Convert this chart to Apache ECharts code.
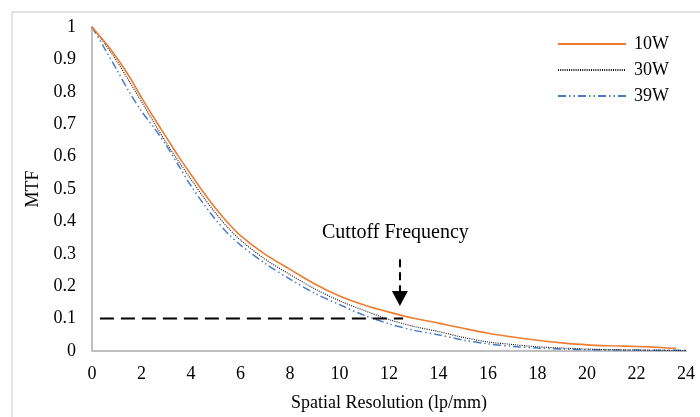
<!DOCTYPE html>
<html><head><meta charset="utf-8">
<script src="https://cdn.jsdelivr.net/npm/echarts@6/dist/echarts.min.js"></script>
<style>html,body{margin:0;padding:0;background:#fff}#c{width:700px;height:417px}</style>
</head><body><div id="c"></div>
<script>
const xTicks = [0,2,4,6,8,10,12,14,16,18,20,22,24];
const seriesNames = ['10W','30W','39W'];
const x10W = [0,0.5,1,1.5,2,2.5,3,3.5,4,4.5,5,5.5,6,7,8,9,10,11,12,13,14,15,16,17,18,19,20,21,22,23,23.6];
const mtf10W = [1,0.955,0.905,0.848,0.782,0.72,0.66,0.6,0.545,0.49,0.44,0.395,0.356,0.298,0.252,0.207,0.17,0.142,0.12,0.101,0.086,0.07,0.055,0.043,0.033,0.025,0.019,0.016,0.014,0.011,0.008];
const x30W = [0,0.5,1,1.5,2,2.5,3,3.5,4,4.5,5,5.5,6,7,8,9,10,11,12,13,14,15,16,17,18,19,20,21,22,23,24];
const mtf30W = [1,0.95,0.895,0.833,0.77,0.705,0.643,0.585,0.53,0.475,0.425,0.38,0.342,0.283,0.236,0.192,0.155,0.125,0.097,0.076,0.06,0.042,0.028,0.02,0.013,0.009,0.006,0.004,0.003,0.002,0.001];
const x39W = [0,0.5,1,1.5,2,2.5,3,3.5,4,4.5,5,5.5,6,7,8,9,10,11,12,13,14,15,16,17,18,19,20,21,22,23,24];
const mtf39W = [1,0.935,0.868,0.8,0.74,0.69,0.635,0.572,0.51,0.455,0.405,0.362,0.327,0.27,0.222,0.178,0.143,0.11,0.084,0.064,0.05,0.034,0.022,0.014,0.009,0.006,0.004,0.003,0.003,0.002,0.002];
// annotation: cutoff threshold line and arrow (data coordinates)
const cutoffLineX = [0.32, 12.57];
const cutoffLevel = 0.1;
const arrowX = 12.44;
const arrowY = [0.283, 0.162];
const annotationText = 'Cuttoff Frequency';
const annotationPos = [12.26, 0.366];

const pair = (xs, ys) => xs.map((x, i) => [x, ys[i]]);
const FONT = '"Liberation Serif", "Times New Roman", serif';
const chart = echarts.init(document.getElementById('c'), null, {renderer: 'canvas'});
chart.setOption({
  animation: false,
  backgroundColor: '#fff',
  graphic: [{type: 'rect', shape: {x: 12, y: 12, width: 720, height: 430}, style: {fill: 'none', stroke: '#d9d9d9', lineWidth: 1.3}, z: -1}],
  grid: {left: 92, right: 14, top: 27, bottom: 65},
  legend: {
    orient: 'vertical', left: 552, top: 30, itemWidth: 68, itemHeight: 18, itemGap: 8,
    itemStyle: {opacity: 0},
    textStyle: {fontFamily: FONT, fontSize: 18, color: '#000', padding: [0, 0, 0, 3]},
    data: seriesNames
  },
  xAxis: {
    type: 'value', min: 0, max: 24, interval: 2,
    name: 'Spatial Resolution (lp/mm)', nameLocation: 'middle', nameGap: 43,
    nameTextStyle: {fontFamily: FONT, fontSize: 18, color: '#000'},
    axisLine: {show: true, lineStyle: {color: '#bfbfbf', width: 2}},
    axisTick: {show: false}, splitLine: {show: false},
    axisLabel: {fontFamily: FONT, fontSize: 18, color: '#000', margin: 14,
      formatter: v => xTicks.includes(v) ? String(v) : ''}
  },
  yAxis: {
    type: 'value', min: 0, max: 1, interval: 0.1,
    name: 'MTF', nameLocation: 'middle', nameGap: 44, nameRotate: 90,
    nameTextStyle: {fontFamily: FONT, fontSize: 18, color: '#000'},
    axisLine: {show: true, lineStyle: {color: '#bfbfbf', width: 2}},
    axisTick: {show: false}, splitLine: {show: false},
    axisLabel: {fontFamily: FONT, fontSize: 18, color: '#000', margin: 16}
  },
  series: [
    {name: '10W', type: 'line', data: pair(x10W, mtf10W), smooth: 0.3, symbol: 'none', z: 4,
     itemStyle: {color: '#ed7d31'}, lineStyle: {color: '#ed7d31', width: 1.6, type: 'solid'}},
    {name: '30W', type: 'line', data: pair(x30W, mtf30W), smooth: 0.3, symbol: 'none', z: 3,
     itemStyle: {color: '#111'}, lineStyle: {color: '#111', width: 1.1, type: [1, 1.2]}},
    {name: '39W', type: 'line', data: pair(x39W, mtf39W), smooth: 0.3, symbol: 'none', z: 2,
     itemStyle: {color: '#4a7cc9'}, lineStyle: {color: '#4a7cc9', width: 1.5, type: [8, 3, 1.5, 3, 1.5, 3]}},
    {name: 'cutoff', type: 'line', data: cutoffLineX.map(x => [x, cutoffLevel]), symbol: 'none', z: 5,
     lineStyle: {color: '#000', width: 2, type: [14, 7]}, silent: true,
     markLine: {
       silent: true, symbol: ['none', 'triangle'], symbolSize: [16, 15],
       lineStyle: {color: '#000', width: 2, type: [8, 5]}, label: {show: false},
       data: [[{coord: [arrowX, arrowY[0]]}, {coord: [arrowX, arrowY[1]]}]]
     },
     markPoint: {
       silent: true, symbol: 'circle', symbolSize: 0,
       label: {show: true, position: 'inside', formatter: annotationText, fontFamily: FONT, fontSize: 20, color: '#000'},
       data: [{coord: annotationPos}]
     }}
  ]
});
</script></body></html>
